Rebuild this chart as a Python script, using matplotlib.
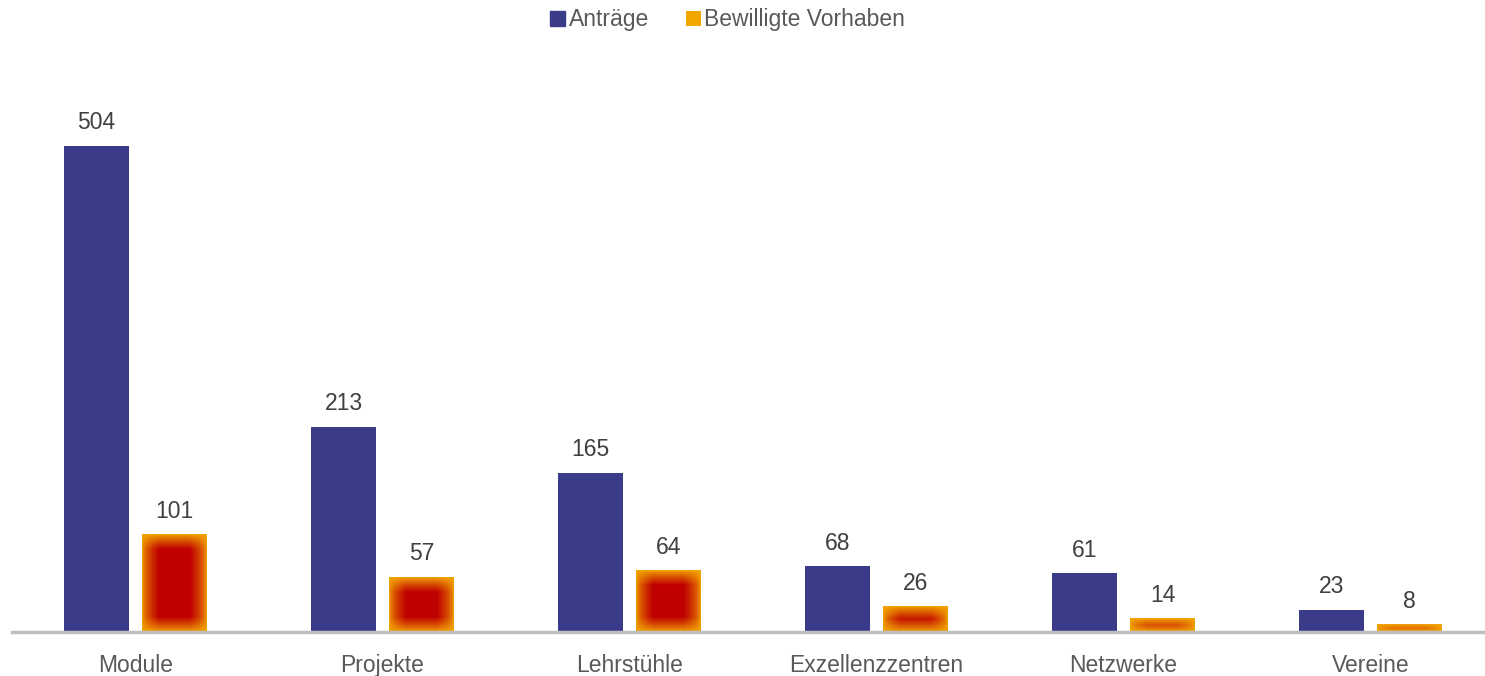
import matplotlib.pyplot as plt
import matplotlib.patches as mpatches
import numpy as np

plt.rcParams['font.family'] = ['Liberation Sans', 'DejaVu Sans']

categories = ["Module", "Projekte", "Lehrstühle", "Exzellenzzentren", "Netzwerke", "Vereine"]
antraege = [504, 213, 165, 68, 61, 23]
bewilligt = [101, 57, 64, 26, 14, 8]

blue = "#3A3C8A"
red = np.array([0.75, 0.0, 0.0])
orange = np.array([0.95, 0.65, 0.0])

fig = plt.figure(figsize=(14.85, 6.76), dpi=100)
ax_w = 1471
ax = fig.add_axes([12 / 1485, 1 - 632 / 676, ax_w / 1485, 540 / 676])
ymax = 560
cat_px = 247
xmax = ax_w / cat_px
ax.set_xlim(0, xmax)
ax.set_ylim(0, ymax)

x = np.arange(len(categories)) + 0.5
w = 0.26
off = 0.158

ax.bar(x - off, antraege, width=w, color=blue, zorder=2)

px_y = 540 / ymax


def gradient_bar(xc, h):
    # rectangular path gradient: orange at the edges, red in the middle
    bw_px = w * cat_px
    bh_px = h * px_y
    nx, ny = 128, max(int(bh_px) * 2, 8)
    u = np.abs(np.linspace(-1, 1, nx))[None, :]
    v = np.abs(np.linspace(-1, 1, ny))[:, None]
    dx = (1 - u) * bw_px / 2
    dy = (1 - v) * bh_px / 2
    sx = np.clip(dx / 17.0, 0, 1) ** 0.6
    sy = np.clip(dy / 15.0, 0, 1) ** 0.85
    t = sx * sy
    img = orange[None, None, :] * (1 - t[..., None]) + red[None, None, :] * t[..., None]
    ax.imshow(img, extent=(xc - w / 2, xc + w / 2, 0, h), aspect='auto',
              interpolation='bilinear', zorder=2)


for xc, h in zip(x + off, bewilligt):
    gradient_bar(xc, h)
ax.set_xlim(0, xmax)
ax.set_ylim(0, ymax)

for xc, h in zip(x - off, antraege):
    ax.text(xc, h + 12, str(h), ha='center', va='bottom', fontsize=16.5, color="#404040")
for xc, h in zip(x + off, bewilligt):
    ax.text(xc, h + 12, str(h), ha='center', va='bottom', fontsize=16.5, color="#404040")

for s in ['top', 'right', 'left']:
    ax.spines[s].set_visible(False)
ax.spines['bottom'].set_color("#BFBFBF")
ax.spines['bottom'].set_linewidth(2.5)
ax.set_yticks([])
ax.set_xticks(x)
ax.set_xticklabels(categories, fontsize=16.5, color="#595959")
ax.tick_params(axis='x', length=0, pad=16)

handles = [mpatches.Patch(color=blue, label="Anträge"),
           mpatches.Patch(facecolor=orange, edgecolor=red, linewidth=0, label="Bewilligte Vorhaben")]
fig.legend(handles=handles, loc='upper center', bbox_to_anchor=(0.49, 1.018), ncol=2,
           frameon=False, fontsize=16.5, handlelength=0.65, handleheight=0.65,
           handletextpad=0.15, columnspacing=1.6, labelcolor="#595959")

fig.savefig("out.png", dpi=100)
